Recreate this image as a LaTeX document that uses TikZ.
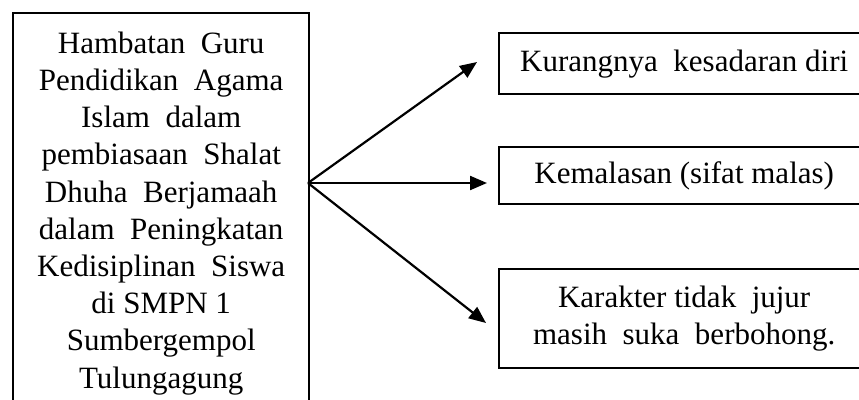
\documentclass[tikz,border=0pt]{standalone}
\usepackage{fontspec}
\setmainfont{Liberation Serif}
\usetikzlibrary{arrows.meta}
\begin{document}
\begin{tikzpicture}[x=1pt,y=-1pt,
  box/.style={draw,line width=2.4pt,anchor=north west,inner sep=0pt,align=center,
    font=\fontsize{31}{37.2}\selectfont},
  arr/.style={line width=2.2pt,-{Triangle[length=17pt,width=14pt]}}]
\useasboundingbox (0,0) rectangle (859,399);
\clip (0,0) rectangle (859,399);
\node[box,minimum width=296pt,minimum height=400pt] (L) at (12,12)
  {Hambatan~ Guru\\Pendidikan~ Agama\\Islam~ dalam\\pembiasaan~ Shalat\\Dhuha~ Berjamaah\\dalam~ Peningkatan\\Kedisiplinan~ Siswa\\di SMPN 1\\Sumbergempol\\Tulungagung};
\node[box,minimum width=370pt,minimum height=61pt] (B1) at (498,32) {Kurangnya~ kesadaran diri};
\node[box,minimum width=370pt,minimum height=57pt] (B2) at (498,146) {Kemalasan (sifat malas)};
\node[box,minimum width=370pt,minimum height=99pt] (B3) at (498,268) {Karakter tidak~ jujur\\masih~ suka~ berbohong.};
\coordinate (S) at (308,183);
\coordinate (T1) at (477,62);
\coordinate (T2) at (487,183);
\coordinate (T3) at (486,323);
\draw[arr] (S) -- (T1);
\draw[arr] (S) -- (T2);
\draw[arr] (S) -- (T3);
\end{tikzpicture}
\end{document}
